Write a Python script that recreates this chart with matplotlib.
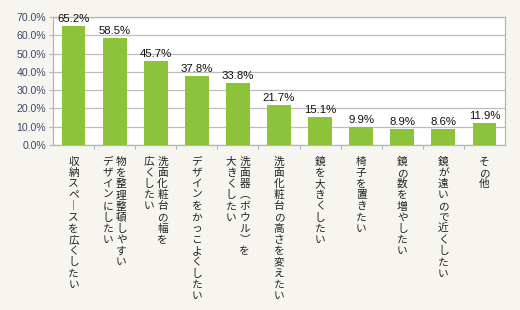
import matplotlib
matplotlib.use("Agg")
import matplotlib.pyplot as plt
from matplotlib.transforms import blended_transform_factory

categories = [
    ["収納スペースを広くしたい"],
    ["物を整理整頓しやすい", "デザインにしたい"],
    ["洗面化粧台の幅を", "広くしたい"],
    ["デザインをかっこよくしたい"],
    ["洗面器（ボウル）を", "大きくしたい"],
    ["洗面化粧台の高さを変えたい"],
    ["鏡を大きくしたい"],
    ["椅子を置きたい"],
    ["鏡の数を増やしたい"],
    ["鏡が遠いので近くしたい"],
    ["その他"],
]
values = [65.2, 58.5, 45.7, 37.8, 33.8, 21.7, 15.1, 9.9, 8.9, 8.6, 11.9]
yticks = [0, 10, 20, 30, 40, 50, 60, 70]

# vertical-writing substitutes
vmap = {"ー": "︱", "（": "︵", "）": "︶"}

bg = "#F6F5EF"
bar_color = "#8DC33A"
grid_color = "#BDBDBD"

fig = plt.figure(figsize=(5.2, 3.1), dpi=100, facecolor=bg)
ax = fig.add_axes([53/520, 1 - 145/310, 452/520, 128/310])
ax.set_facecolor("white")

x = list(range(len(values)))
bars = ax.bar(x, values, width=0.58, color=bar_color, zorder=3)
ax.set_xlim(-0.5, len(values) - 0.5)
ax.set_ylim(0, 70)
ax.set_yticks(yticks)
ax.set_yticklabels([f"{v:.1f}%" for v in yticks], fontsize=7.6,
                   color="#3B4A6B", family="Liberation Sans")
ax.grid(axis="y", color=grid_color, linewidth=0.9, zorder=0)
for s in ax.spines.values():
    s.set_color("#B5B5B5")
    s.set_linewidth(0.9)
ax.tick_params(axis="y", length=3, color="#B5B5B5", pad=2)
ax.set_xticks([i + 0.5 for i in x[:-1]])
ax.set_xticklabels([])
ax.tick_params(axis="x", length=3, direction="out", color="#B5B5B5")

for xi, v in zip(x, values):
    ax.text(xi, v + 1.2, f"{v:.1f}%", ha="center", va="bottom",
            fontsize=8.2, color="#111111", family="Liberation Sans", zorder=4)

trans = blended_transform_factory(ax.transData, ax.transAxes)
step = 11.2 * 0.72  # points per character
col_gap = 13.5 * 0.72
for xi, cols in zip(x, categories):
    n = len(cols)
    for ci, col in enumerate(cols):
        dx = ((n - 1) / 2 - ci) * col_gap
        for k, ch in enumerate(col):
            c = vmap.get(ch, ch)
            ax.annotate(c, xy=(xi, 0), xycoords=trans,
                        xytext=(dx, -12 - k * step), textcoords="offset points",
                        ha="center", va="center", fontsize=7.7,
                        color="#222222",
                        family=["Noto Sans CJK JP", "DejaVu Sans"],
                        annotation_clip=False)

fig.savefig("out.png", dpi=100, facecolor=bg)
